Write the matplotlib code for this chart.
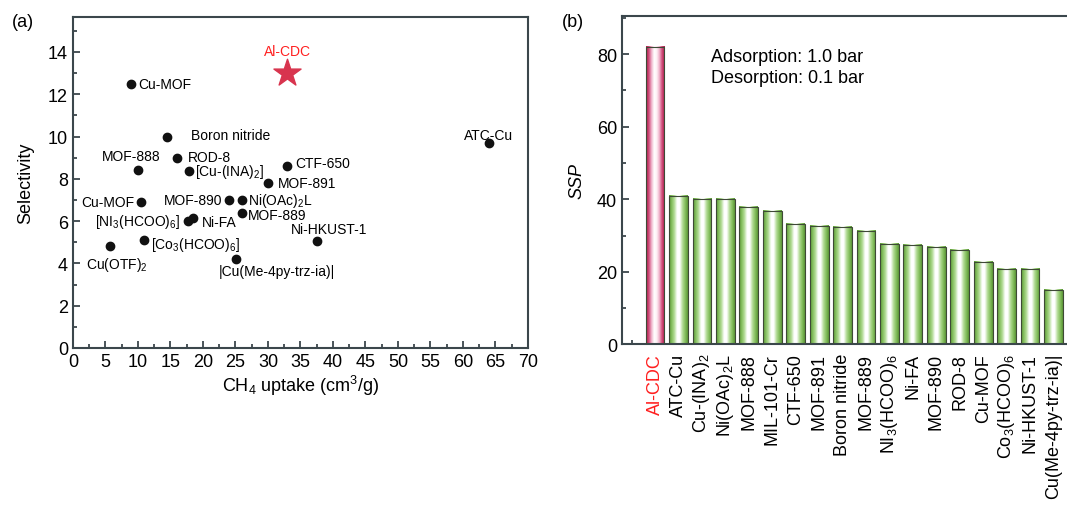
import numpy as np
import matplotlib
matplotlib.use("Agg")
import matplotlib.pyplot as plt
from matplotlib.colors import LinearSegmentedColormap
from matplotlib.ticker import MultipleLocator

plt.rcParams['font.family'] = ['Liberation Sans', 'DejaVu Sans']
plt.rcParams['mathtext.default'] = 'regular'

# (a) selectivity vs CH4 uptake
names = ['Cu-MOF', 'Boron nitride', 'ATC-Cu', 'MOF-888', 'ROD-8', '[Cu-(INA)$_2$]',
         'CTF-650', 'MOF-891', 'Cu-MOF', 'MOF-890', 'Ni(OAc)$_2$L', 'MOF-889',
         '[NI$_3$(HCOO)$_6$]', 'Ni-FA', 'Ni-HKUST-1', '[Co$_3$(HCOO)$_6$]',
         'Cu(OTF)$_2$', '|Cu(Me-4py-trz-ia)|']
uptake = [9.0, 14.4, 64.0, 10.0, 16.0, 17.9, 32.9, 30.0, 10.5, 24.0, 26.0, 26.0,
          17.7, 18.4, 37.5, 10.9, 5.7, 25.1]
selectivity = [12.5, 10.0, 9.7, 8.4, 9.0, 8.35, 8.6, 7.8, 6.9, 7.0, 7.0, 6.4,
               6.0, 6.15, 5.05, 5.1, 4.8, 4.2]
star_uptake = 33.0
star_sel = 13.0

# (b) SSP
materials = ['Al-CDC', 'ATC-Cu', 'Cu-(INA)$_2$', 'Ni(OAc)$_2$L', 'MOF-888', 'MIL-101-Cr',
             'CTF-650', 'MOF-891', 'Boron nitride', 'MOF-889', 'NI$_3$(HCOO)$_6$', 'Ni-FA',
             'MOF-890', 'ROD-8', 'Cu-MOF', 'Co$_3$(HCOO)$_6$', 'Ni-HKUST-1',
             'Cu(Me-4py-trz-ia)|']
ssp = [82, 41, 40.2, 40.2, 38, 36.8, 33.1, 32.6, 32.3, 31.2, 27.8, 27.4, 26.9,
       26.0, 22.8, 20.8, 20.8, 15.0]

# label offsets in pixels (dx, dy, ha)
offs = [(7, 0, 'left'), (24, 2, 'left'), (0, 8, 'center'), (-7, 14, 'center'),
        (11, 1, 'left'), (6, 0, 'left'), (8, 3, 'left'), (10, 0, 'left'),
        (-7, 0, 'right'), (-7, 0, 'right'), (6, 0, 'left'), (6, -2, 'left'),
        (-8, 0, 'right'), (9, -4, 'left'), (12, 12, 'center'), (7, -4, 'left'),
        (7, -18, 'center'), (41, -12, 'center')]

spine_c = '#3b474c'
fig = plt.figure(figsize=(10.67, 5.06), dpi=100)

ax1 = fig.add_axes([0.0684, 0.3103, 0.4264, 0.6541])
ax1.scatter(uptake, selectivity, s=36, color='#111111', zorder=3)
ax1.scatter([star_uptake], [star_sel], marker='*', s=420, color='#d8344e', zorder=3)
ax1.annotate('Al-CDC', (star_uptake, star_sel), xytext=(0, 16), textcoords='offset points',
             ha='center', va='center', color='#ff2020', fontsize=10)
for n, x, y, (dx, dy, ha) in zip(names, uptake, selectivity, offs):
    ax1.annotate(n, (x, y), xytext=(dx * 0.72, dy * 0.72), textcoords='offset points',
                 ha=ha, va='center', fontsize=10)
ax1.set_xlim(0, 70)
ax1.set_ylim(0, 15.65)
ax1.xaxis.set_major_locator(MultipleLocator(5))
ax1.xaxis.set_minor_locator(MultipleLocator(2.5))
ax1.yaxis.set_major_locator(MultipleLocator(2))
ax1.yaxis.set_minor_locator(MultipleLocator(1))
ax1.tick_params(which='both', direction='in', top=False, right=False, labelsize=13,
                color=spine_c, width=1.3)
ax1.tick_params(which='major', length=5)
ax1.tick_params(which='minor', length=3)
ax1.set_xlabel('CH$_4$ uptake (cm$^3$/g)', fontsize=13, labelpad=2)
ax1.set_ylabel('Selectivity', fontsize=13, labelpad=10)
for s in ax1.spines.values():
    s.set_color(spine_c)
    s.set_linewidth(1.5)

# gradient bars
ax2 = fig.add_axes([0.583, 0.3172, 0.4175, 0.6492])
green = LinearSegmentedColormap.from_list('g', ['#5c9838', '#86c060', '#b4dc98', '#ffffff',
                                                '#ffffff', '#b4dc98', '#86c060', '#5c9838'])
pink = LinearSegmentedColormap.from_list('p', ['#a8204c', '#d04a78', '#eeb0c8', '#ffffff',
                                               '#fff0f5', '#eeb0c8', '#d04a78', '#a8204c'])
grad = np.linspace(0, 1, 64)[np.newaxis, :]
w = 0.8
xpos = np.arange(len(materials))
for i, v in zip(xpos, ssp):
    cm = pink if i == 0 else green
    ax2.imshow(grad, extent=(i - w / 2, i + w / 2, 0, v), aspect='auto', cmap=cm,
               zorder=2, interpolation='bilinear')
ax2.bar(xpos, ssp, width=w, fill=False, edgecolor='#3e4a36', linewidth=0.8, zorder=3)
ax2.set_xlim(-1.41, 17.6)
ax2.set_ylim(0, 90.5)
ax2.set_xticks(xpos)
ax2.set_xticklabels(materials, rotation=90, fontsize=13)
ax2.get_xticklabels()[0].set_color('#ff2020')
ax2.xaxis.set_minor_locator(MultipleLocator(1))
ax2.yaxis.set_major_locator(MultipleLocator(20))
ax2.yaxis.set_minor_locator(MultipleLocator(10))
ax2.tick_params(which='both', direction='in', labelsize=13, color=spine_c, width=1.3)
ax2.tick_params(axis='x', which='both', length=3, pad=6)
ax2.tick_params(axis='y', which='major', length=5)
ax2.tick_params(axis='y', which='minor', length=3)
ax2.set_ylabel('SSP', fontsize=13, style='italic', labelpad=8)
ax2.spines['right'].set_visible(False)
for s in ax2.spines.values():
    s.set_color(spine_c)
    s.set_linewidth(1.5)
ax2.text(0.2, 0.845, 'Adsorption: 1.0 bar\nDesorption: 0.1 bar', transform=ax2.transAxes,
         fontsize=13, va='center', ha='left', linespacing=1.25)

fig.text(0.011, 0.955, '(a)', fontsize=13, va='center')
fig.text(0.527, 0.955, '(b)', fontsize=13, va='center')

fig.savefig('out.png', dpi=100)
